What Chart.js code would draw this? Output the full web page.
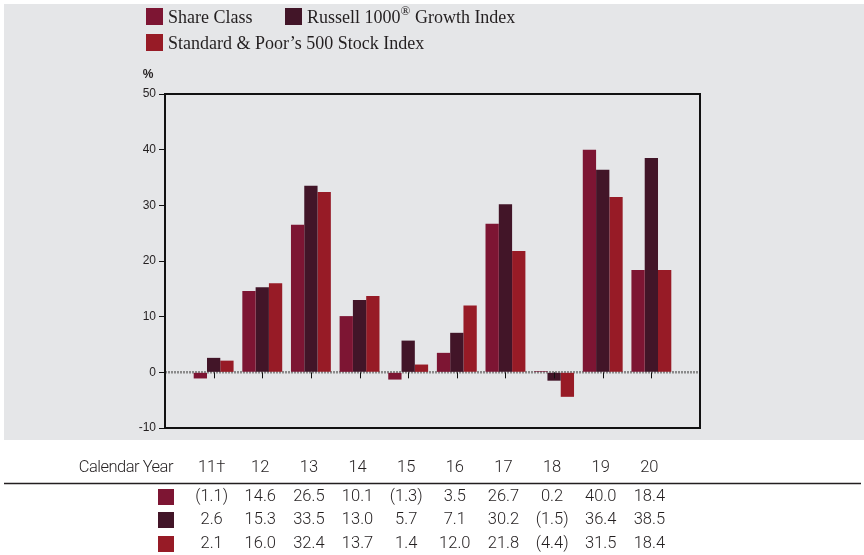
<!DOCTYPE html>
<html>
<head>
<meta charset="utf-8">
<script src="https://cdn.jsdelivr.net/npm/chart.js@4/dist/chart.umd.min.js"></script>
<style>
  html, body { margin: 0; padding: 0; background: #fff; }
  #wrap { width: 864px; height: 555px; position: relative; }
</style>
</head>
<body>
<div id="wrap"><canvas id="grafico"></canvas></div>
<script>
// Datos del grafico
const years = ["11\u2020", "12", "13", "14", "15", "16", "17", "18", "19", "20"];
const shareClass = [-1.1, 14.6, 26.5, 10.1, -1.3, 3.5, 26.7, 0.2, 40.0, 18.4];
const russell = [2.6, 15.3, 33.5, 13.0, 5.7, 7.1, 30.2, -1.5, 36.4, 38.5];
const sp500 = [2.1, 16.0, 32.4, 13.7, 1.4, 12.0, 21.8, -4.4, 31.5, 18.4];
const yTicks = [-10, 0, 10, 20, 30, 40, 50];

const seriesNames = ["Share Class", "Russell 1000\u00AE Growth Index", "Standard & Poor\u2019s 500 Stock Index"];
const colores = ["#7d1533", "#421528", "#971b26"];

const GRIS = "#e5e6e8";
const TEXTO = "#231f20";
const SERIF = "'Liberation Serif', 'Times New Roman', serif";

// convertir valores a puntos {x, y}
function puntos(serie) {
  return serie.map((v, i) => ({ x: i, y: v }));
}

// formato de la tabla: negativos entre parentesis
function formato(v) {
  const s = Math.abs(v).toFixed(1);
  return v < 0 ? "(" + s + ")" : s;
}

// Plugin para fondo gris, marco, linea de cero, leyenda y tabla
const decoracion = {
  id: "decoracion",
  beforeDraw(chart) {
    const ctx = chart.ctx;
    ctx.save();
    ctx.fillStyle = GRIS;
    ctx.fillRect(4, 4, 860, 436);
    ctx.restore();
  },
  beforeDatasetsDraw(chart) {
    const { ctx, chartArea, scales } = chart;
    const y0 = scales.y.getPixelForValue(0);
    ctx.save();
    // linea punteada en cero
    ctx.strokeStyle = "#8a8a8a";
    ctx.lineWidth = 2.5;
    ctx.setLineDash([2, 1]);
    ctx.beginPath();
    ctx.moveTo(chartArea.left, y0);
    ctx.lineTo(chartArea.right, y0);
    ctx.stroke();
    ctx.restore();
  },
  afterDatasetsDraw(chart) {
    const { ctx, chartArea, scales } = chart;
    const y0 = scales.y.getPixelForValue(0);
    ctx.save();
    // marcas de categoria
    ctx.strokeStyle = "#111";
    ctx.lineWidth = 1;
    years.forEach((_, i) => {
      const x = Math.round(scales.x.getPixelForValue(i)) + 0.5;
      ctx.beginPath();
      ctx.moveTo(x, y0);
      ctx.lineTo(x, y0 + 6);
      ctx.stroke();
    });
    // marco
    ctx.strokeStyle = "#111";
    ctx.lineWidth = 2;
    ctx.strokeRect(chartArea.left, chartArea.top, chartArea.right - chartArea.left, chartArea.bottom - chartArea.top);

    // simbolo %
    ctx.fillStyle = TEXTO;
    ctx.font = "bold 12px 'Liberation Sans', Arial, sans-serif";
    ctx.textAlign = "center";
    ctx.textBaseline = "middle";
    ctx.fillText("%", 148, 75);

    // leyenda
    const items = [
      { x: 146, y: 8 },
      { x: 285, y: 8 },
      { x: 146, y: 34 }
    ];
    ctx.textAlign = "left";
    ctx.textBaseline = "middle";
    items.forEach((it, i) => {
      ctx.fillStyle = colores[i];
      ctx.fillRect(it.x, it.y, 17, 17);
      ctx.fillStyle = TEXTO;
      ctx.font = "18px " + SERIF;
      const texto = seriesNames[i];
      const corte = texto.indexOf("\u00AE");
      const tx = it.x + 22;
      const ty = it.y + 10;
      if (corte >= 0) {
        const a = texto.slice(0, corte);
        const b = texto.slice(corte + 1);
        ctx.fillText(a, tx, ty);
        const wa = ctx.measureText(a).width;
        ctx.font = "13px " + SERIF;
        ctx.fillText("\u00AE", tx + wa, ty - 6);
        const wr = ctx.measureText("\u00AE").width;
        ctx.font = "18px " + SERIF;
        ctx.fillText(b, tx + wa + wr, ty);
      } else {
        ctx.fillText(texto, tx, ty);
      }
    });

    // tabla
    ctx.font = "300 16.5px Roboto, 'Noto Sans', sans-serif";
    ctx.fillStyle = TEXTO;
    ctx.textAlign = "right";
    ctx.letterSpacing = "-0.5px";
    ctx.fillText("Calendar Year", 173, 468);
    ctx.letterSpacing = "0px";
    ctx.textAlign = "center";
    years.forEach((yr, i) => {
      ctx.fillText(yr, scales.x.getPixelForValue(i) - 2, 468);
    });
    ctx.strokeStyle = "#231f20";
    ctx.lineWidth = 1.5;
    ctx.beginPath();
    ctx.moveTo(4, 483.5);
    ctx.lineTo(861, 483.5);
    ctx.stroke();

    const filas = [shareClass, russell, sp500];
    const filasY = [497, 520, 544];
    filas.forEach((serie, r) => {
      ctx.fillStyle = colores[r];
      ctx.fillRect(158, filasY[r] - 8, 16, 16);
      ctx.fillStyle = TEXTO;
      serie.forEach((v, i) => {
        ctx.fillText(formato(v), scales.x.getPixelForValue(i) - 2, filasY[r]);
      });
    });
    ctx.restore();
  }
};

const datasets = [shareClass, russell, sp500].map((serie, i) => ({
  label: seriesNames[i],
  data: puntos(serie),
  backgroundColor: colores[i],
  borderWidth: 0,
  categoryPercentage: 0.82,
  barPercentage: 1.0
}));

new Chart(document.querySelector("#grafico"), {
  type: "bar",
  data: { datasets },
  options: {
    responsive: true,
    maintainAspectRatio: false,
    animation: false,
    layout: { padding: { left: 120, right: 164, top: 94, bottom: 127 } },
    plugins: {
      legend: { display: false },
      tooltip: { enabled: false }
    },
    scales: {
      x: {
        type: "linear",
        min: -1,
        max: 10,
        offset: false,
        grid: { offset: false },
        display: false
      },
      y: {
        min: -10,
        max: 50,
        afterFit(s) { s.width = 45; },
        afterBuildTicks(s) { s.ticks = yTicks.map(v => ({ value: v })); },
        border: { display: false },
        grid: {
          drawOnChartArea: false,
          drawTicks: true,
          tickLength: 6,
          color: "#111"
        },
        ticks: {
          padding: 3,
          color: TEXTO,
          font: { family: "'Liberation Sans', Arial, sans-serif", size: 12 }
        }
      }
    }
  },
  plugins: [decoracion]
});
</script>
</body>
</html>
